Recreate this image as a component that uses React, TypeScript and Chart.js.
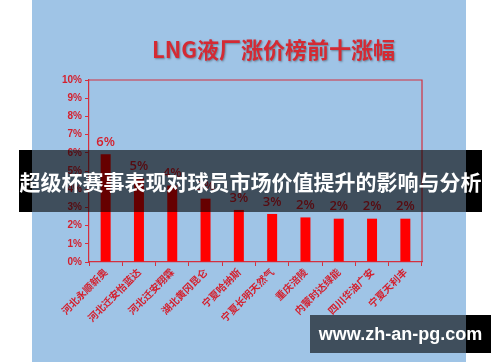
import React, { useEffect, useRef } from "react";
import { Chart, registerables } from "chart.js";

Chart.register(...registerables);

const categories = [
  "河北永顺新奥",
  "河北迁安怡蓝达",
  "河北迁安翔霖",
  "湖北黄冈昆仑",
  "宁夏哈纳斯",
  "宁夏长明天然气",
  "重庆涪陵",
  "内蒙时达绿能",
  "四川华油广安",
  "宁夏天利丰",
];
const increasePct = [5.92, 4.6, 4.2, 3.48, 2.86, 2.64, 2.45, 2.38, 2.38, 2.38];
const yTicksMax = 10;
const yTickStep = 1;
const chartTitle = "LNG液厂涨价榜前十涨幅";
const bannerText = "超级杯赛事表现对球员市场价值提升的影响与分析";
const siteText = "www.zh-an-pg.com";

const RED_AXIS = "#d3303f";
const RED_TEXT = "#d4202e";

export default function App() {
  const ref = useRef<HTMLCanvasElement | null>(null);

  useEffect(() => {
    if (!ref.current) return;
    const borderPlugin = {
      id: "plotBorder",
      afterDraw(chart: any) {
        const { ctx, chartArea } = chart;
        ctx.save();
        ctx.strokeStyle = RED_AXIS;
        ctx.lineWidth = 1.2;
        ctx.beginPath();
        ctx.moveTo(chartArea.left, chartArea.top);
        ctx.lineTo(chartArea.right, chartArea.top);
        ctx.lineTo(chartArea.right, chartArea.bottom);
        ctx.stroke();
        ctx.restore();
      },
    };
    const labelPlugin = {
      id: "barLabels",
      afterDatasetsDraw(chart: any) {
        const { ctx } = chart;
        const meta = chart.getDatasetMeta(0);
        ctx.save();
        ctx.fillStyle = RED_TEXT;
        ctx.font = "600 13px 'Open Sans', 'Liberation Sans', Arial, sans-serif";
        ctx.textAlign = "center";
        ctx.textBaseline = "middle";
        meta.data.forEach((bar: any, i: number) => {
          ctx.fillText(Math.round(increasePct[i]) + "%", bar.x, bar.y - 12);
        });
        ctx.restore();
      },
    };
    const chart = new Chart(ref.current, {
      type: "bar",
      data: {
        labels: categories,
        datasets: [
          {
            data: increasePct,
            backgroundColor: "#ff0000",
            borderWidth: 0,
            barPercentage: 0.3,
            categoryPercentage: 1,
          },
        ],
      },
      options: {
        responsive: false,
        maintainAspectRatio: false,
        animation: false,
        layout: { padding: { left: 0, right: 44, top: 80, bottom: 0 } },
        plugins: {
          legend: { display: false },
          tooltip: { enabled: false },
          title: { display: false },
        },
        scales: {
          x: {
            afterFit: (s: any) => {
              s.height = 100;
            },
            grid: {
              offset: true,
              drawOnChartArea: false,
              drawTicks: true,
              tickLength: 4,
              color: RED_AXIS,
            },
            border: { display: true, color: RED_AXIS, width: 1.2 },
            ticks: {
              autoSkip: false,
              maxRotation: 45,
              minRotation: 45,
              padding: 0,
              color: RED_TEXT,
              font: { family: "'Noto Sans CJK SC'", size: 10, weight: "bold" },
            },
          },
          y: {
            min: 0,
            max: yTicksMax,
            afterFit: (s: any) => {
              s.width = 57;
            },
            grid: {
              drawOnChartArea: false,
              drawTicks: true,
              tickLength: 4,
              color: RED_AXIS,
            },
            border: { display: true, color: RED_AXIS, width: 1.2 },
            ticks: {
              stepSize: yTickStep,
              padding: 3,
              color: RED_TEXT,
              font: { family: "'Liberation Sans', Arial", size: 10, weight: "bold" },
              callback: (v: any) => v + "%",
            },
          },
        },
      },
      plugins: [borderPlugin, labelPlugin],
    });
    return () => chart.destroy();
  }, []);

  return (
    <div
      style={{
        position: "fixed",
        left: 0,
        top: 0,
        width: 500,
        height: 362,
        background: "#ffffff",
        overflow: "hidden",
      }}
    >
      <div
        style={{
          position: "absolute",
          left: 32,
          top: 0,
          width: 434,
          height: 362,
          background: "#9fc4e6",
        }}
      >
        <canvas ref={ref} width={434} height={362} style={{ display: "block" }} />
      </div>
      <div
        style={{
          position: "absolute",
          left: 152,
          top: 36,
          whiteSpace: "nowrap",
          fontFamily: "'Noto Sans CJK SC', sans-serif",
          fontWeight: 700,
          fontSize: 22,
          lineHeight: "24px",
          color: "#d42a33",
          textShadow: "1px 1px 2px rgba(0,0,0,0.35)",
        }}
      >
        {chartTitle}
      </div>
      <div
        style={{
          position: "absolute",
          left: 19,
          top: 150,
          width: 463,
          height: 62,
          background:
            "linear-gradient(to right, #000 13px, rgba(0,0,0,0.6) 13px, rgba(0,0,0,0.6) 447px, #000 447px)",
          display: "flex",
          alignItems: "center",
          justifyContent: "center",
          color: "#fff",
          fontFamily: "'Noto Sans CJK SC', sans-serif",
          fontWeight: 700,
          fontSize: 21,
          whiteSpace: "nowrap",
        }}
      >
        {bannerText}
      </div>
      <div
        style={{
          position: "absolute",
          left: 310,
          top: 315,
          width: 181,
          height: 38,
          background:
            "linear-gradient(to right, rgba(0,0,0,0.6) 156px, #000 156px)",
          display: "flex",
          alignItems: "center",
          justifyContent: "center",
          color: "#fff",
          fontFamily: "'Liberation Sans', Arial, sans-serif",
          fontWeight: 700,
          fontSize: 18,
          whiteSpace: "nowrap",
        }}
      >
        {siteText}
      </div>
    </div>
  );
}
